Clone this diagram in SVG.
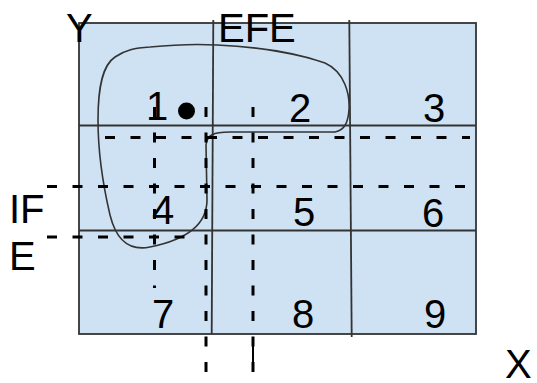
<svg xmlns="http://www.w3.org/2000/svg" width="537" height="383" viewBox="0 0 537 383">
<style>
.grid{fill:none;stroke:#333;stroke-width:1.8}
.cellbg{fill:#cfe2f3;stroke:#333;stroke-width:1.8}
.dash{fill:none;stroke:#000;stroke-width:3;stroke-dasharray:10 15.5}
.blob{fill:none;stroke:#333;stroke-width:1.6}
text{font-family:"Liberation Sans",Arial,sans-serif;font-size:40px;fill:#000}
.num{text-anchor:middle}
</style>
<g id="grid">
<rect class="cellbg" x="79" y="23" width="397" height="311"/>
<line class="grid" x1="213.3" y1="20" x2="211.7" y2="334"/>
<line class="grid" x1="349.3" y1="20" x2="351.7" y2="337"/>
<line class="grid" x1="79" y1="125.5" x2="476" y2="125.5"/>
<line class="grid" x1="79" y1="230.5" x2="476" y2="230.5"/>
</g>
<g id="region">
<path class="blob" d="M150,47 C180,44 200,44 217,45 C260,47 300,54 325,63 C345,72 350,95 349,110 C348,122 345,130 335,132 L230,132 C213,132 207,135 206,145 L207,200 C207,225 185,240 150,247 C125,252 115,235 110,215 C103,185 98,150 98,120 C98,85 103,65 115,57 C125,50 135,48 150,47 Z"/>
<circle cx="186.5" cy="111" r="8.5" fill="#000"/>
</g>
<g id="connectors">
<line class="dash" x1="105" y1="137.5" x2="470" y2="137.5"/>
<line class="dash" x1="47" y1="186.5" x2="470" y2="186.5"/>
<line class="dash" x1="47" y1="237" x2="190" y2="237"/>
<line class="dash" x1="154.5" y1="107" x2="154.5" y2="288"/>
<line class="dash" x1="206" y1="107" x2="206" y2="376"/>
<line class="dash" x1="253" y1="107" x2="253" y2="376"/>
<line x1="253" y1="337" x2="253" y2="362" stroke="#000" stroke-width="2"/>
</g>
<g id="labels">
<text x="66" y="42">Y</text>
<text x="218" y="42">EFE</text>
<text x="9" y="223">IF</text>
<text x="9" y="270">E</text>
<text x="505" y="378">X</text>
</g>
<g id="cells">
<text class="num" x="157" y="120">1</text>
<text class="num" x="300" y="122">2</text>
<text class="num" x="434" y="122">3</text>
<text class="num" x="163" y="224">4</text>
<text class="num" x="304" y="226">5</text>
<text class="num" x="433" y="227">6</text>
<text class="num" x="163" y="328">7</text>
<text class="num" x="303" y="328">8</text>
<text class="num" x="435" y="328">9</text>
</g>
</svg>
